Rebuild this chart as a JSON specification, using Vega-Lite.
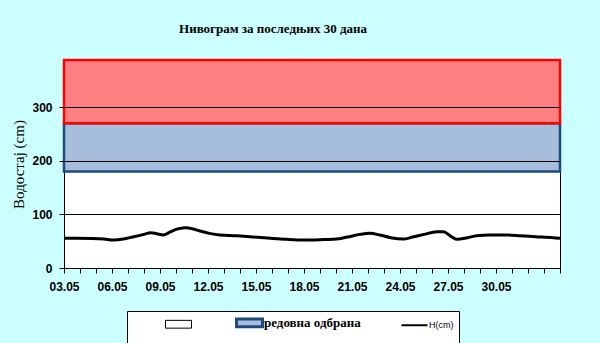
{
  "$schema": "https://vega.github.io/schema/vega-lite/v6.json",
  "width": 496,
  "height": 208,
  "autosize": {"type": "none"},
  "padding": {"left": 64, "top": 60, "right": 40, "bottom": 75},
  "background": "#CCFFFF",
  "title": {
    "text": "Нивограм за последњих 30 дана",
    "anchor": "middle",
    "frame": "group",
    "offset": 23,
    "dx": -39,
    "font": "Liberation Serif",
    "fontSize": 13,
    "fontWeight": "bold",
    "color": "black"
  },
  "config": {
    "view": {"fill": "white", "stroke": "black", "strokeWidth": 1},
    "axis": {
      "labelFont": "Liberation Sans",
      "labelFontSize": 12,
      "labelFontWeight": "bold",
      "labelColor": "black",
      "tickColor": "black",
      "tickSize": 5,
      "domain": false
    },
    "legend": {
      "orient": "none", "legendX": 63, "legendY": 251,
      "direction": "horizontal",
      "titleOrient": "left", "titlePadding": 40, "titleFontSize": 30, "titleFont": "Liberation Sans",
      "padding": 5, "fillColor": "white", "strokeColor": "black",
      "columnPadding": 36, "labelOffset": 8, "symbolSize": 676, "labelLimit": 300,
      "symbolStrokeWidth": 2,
      "labelFont": "Liberation Serif", "labelFontSize": 13, "labelFontWeight": "bold", "labelColor": "black"
    }
  },
  "datasets": {
    "zones": [
      {"series": "редовна одбрана", "lo": 180, "hi": 270}
    ],
    "red": [
      {"zone": "ванредна одбрана", "lo": 270, "hi": 388}
    ],
    "level": [
      {"t": "2024-05-03T00:00:00Z", "h": 55.3, "series": "H(cm)"},
      {"t": "2024-05-03T19:00:00Z", "h": 55.3, "series": "H(cm)"},
      {"t": "2024-05-04T19:00:00Z", "h": 55.0, "series": "H(cm)"},
      {"t": "2024-05-05T12:00:00Z", "h": 54.0, "series": "H(cm)"},
      {"t": "2024-05-06T02:00:00Z", "h": 52.2, "series": "H(cm)"},
      {"t": "2024-05-06T17:00:00Z", "h": 54.0, "series": "H(cm)"},
      {"t": "2024-05-07T07:00:00Z", "h": 57.8, "series": "H(cm)"},
      {"t": "2024-05-08T00:00:00Z", "h": 62.7, "series": "H(cm)"},
      {"t": "2024-05-08T10:00:00Z", "h": 65.8, "series": "H(cm)"},
      {"t": "2024-05-08T19:00:00Z", "h": 64.0, "series": "H(cm)"},
      {"t": "2024-05-09T05:00:00Z", "h": 61.5, "series": "H(cm)"},
      {"t": "2024-05-09T14:00:00Z", "h": 66.5, "series": "H(cm)"},
      {"t": "2024-05-10T00:00:00Z", "h": 72.0, "series": "H(cm)"},
      {"t": "2024-05-10T14:00:00Z", "h": 75.2, "series": "H(cm)"},
      {"t": "2024-05-11T02:00:00Z", "h": 72.7, "series": "H(cm)"},
      {"t": "2024-05-11T12:00:00Z", "h": 68.9, "series": "H(cm)"},
      {"t": "2024-05-12T02:00:00Z", "h": 64.6, "series": "H(cm)"},
      {"t": "2024-05-12T18:00:00Z", "h": 61.5, "series": "H(cm)"},
      {"t": "2024-05-13T19:00:00Z", "h": 60.2, "series": "H(cm)"},
      {"t": "2024-05-14T19:00:00Z", "h": 57.8, "series": "H(cm)"},
      {"t": "2024-05-15T22:00:00Z", "h": 55.3, "series": "H(cm)"},
      {"t": "2024-05-16T22:00:00Z", "h": 53.4, "series": "H(cm)"},
      {"t": "2024-05-18T00:00:00Z", "h": 52.2, "series": "H(cm)"},
      {"t": "2024-05-19T00:00:00Z", "h": 52.8, "series": "H(cm)"},
      {"t": "2024-05-20T00:00:00Z", "h": 54.0, "series": "H(cm)"},
      {"t": "2024-05-20T17:00:00Z", "h": 57.8, "series": "H(cm)"},
      {"t": "2024-05-21T12:00:00Z", "h": 62.7, "series": "H(cm)"},
      {"t": "2024-05-22T02:00:00Z", "h": 64.6, "series": "H(cm)"},
      {"t": "2024-05-22T18:00:00Z", "h": 61.5, "series": "H(cm)"},
      {"t": "2024-05-23T10:00:00Z", "h": 56.5, "series": "H(cm)"},
      {"t": "2024-05-24T05:00:00Z", "h": 54.0, "series": "H(cm)"},
      {"t": "2024-05-24T19:00:00Z", "h": 57.8, "series": "H(cm)"},
      {"t": "2024-05-25T12:00:00Z", "h": 62.7, "series": "H(cm)"},
      {"t": "2024-05-26T07:00:00Z", "h": 67.7, "series": "H(cm)"},
      {"t": "2024-05-26T17:00:00Z", "h": 67.7, "series": "H(cm)"},
      {"t": "2024-05-27T05:00:00Z", "h": 58.4, "series": "H(cm)"},
      {"t": "2024-05-27T14:00:00Z", "h": 53.4, "series": "H(cm)"},
      {"t": "2024-05-28T05:00:00Z", "h": 56.5, "series": "H(cm)"},
      {"t": "2024-05-28T19:00:00Z", "h": 60.2, "series": "H(cm)"},
      {"t": "2024-05-29T14:00:00Z", "h": 61.5, "series": "H(cm)"},
      {"t": "2024-05-30T17:00:00Z", "h": 61.5, "series": "H(cm)"},
      {"t": "2024-05-31T12:00:00Z", "h": 60.2, "series": "H(cm)"},
      {"t": "2024-06-01T12:00:00Z", "h": 58.4, "series": "H(cm)"},
      {"t": "2024-06-02T14:00:00Z", "h": 56.5, "series": "H(cm)"},
      {"t": "2024-06-03T00:00:00Z", "h": 55.3, "series": "H(cm)"}
    ]
  },
  "layer": [
    {
      "data": {"name": "zones"},
      "mark": {"type": "rect", "fill": "#A6BEDC", "strokeWidth": 2.5},
      "encoding": {
        "y": {
          "field": "lo", "type": "quantitative", "title": "Водостај (cm)",
          "scale": {"domain": [0, 388], "nice": false, "zero": true},
          "axis": {
            "values": [0, 100, 200, 300],
            "grid": true, "gridColor": "black", "gridOpacity": 1, "gridWidth": 1,
            "labelPadding": 7,
            "titleFont": "Liberation Serif", "titleFontSize": 15, "titleFontWeight": "normal",
            "titleColor": "black", "titlePadding": 5, "zindex": 1
          }
        },
        "y2": {"field": "hi"},
        "stroke": {
          "field": "series", "type": "nominal", "title": " ",
          "scale": {"domain": [" ", "редовна одбрана", "H(cm)"], "range": ["#000000", "#1F497D", "#000000"]},
          "legend": {
            "title": " ",
            "encode": {
              "symbols": {
                "update": {
                  "shape": {"signal": "datum.value == 'H(cm)' ? 'stroke' : 'M-1,-0.3H1V0.3H-1Z'"},
                  "fill": {"signal": "datum.value == 'H(cm)' ? 'transparent' : (datum.value == ' ' ? '#FFFFFF' : '#A6BEDC')"},
                  "strokeWidth": {"signal": "datum.value == 'редовна одбрана' ? 3 : (datum.value == 'H(cm)' ? 2 : 1)"},
                  "opacity": {"value": 1}
                }
              },
              "labels": {
                "update": {
                  "fontSize": {"signal": "datum.value == 'H(cm)' ? 9 : 13"},
                  "font": {"signal": "datum.value == 'H(cm)' ? 'Liberation Sans' : 'Liberation Serif'"},
                  "fontWeight": {"signal": "datum.value == 'H(cm)' ? 'normal' : 'bold'"}
                }
              }
            }
          }
        }
      }
    },
    {
      "data": {"name": "red"},
      "mark": {"type": "rect", "fill": "#FF8080", "stroke": "#FF0000", "strokeWidth": 2.5},
      "encoding": {
        "y": {"field": "lo", "type": "quantitative", "title": "Водостај (cm)", "scale": {"domain": [0, 388], "nice": false, "zero": true}},
        "y2": {"field": "hi"}
      }
    },
    {
      "data": {"name": "level"},
      "mark": {"type": "line", "interpolate": "monotone", "strokeWidth": 3},
      "encoding": {
        "x": {
          "field": "t", "type": "temporal", "title": null,
          "scale": {"type": "utc", "domain": [1714694400000, 1717372800000], "nice": false},
          "axis": {
            "tickCount": {"interval": "day", "step": 1},
            "labelExpr": "utcmonth(datum.value) == 4 && (utcdate(datum.value) - 3) % 3 == 0 ? utcFormat(datum.value, '%d.%m') : ''",
            "labelOverlap": false, "labelFlush": false, "grid": false,
            "labelPadding": 8
          }
        },
        "y": {"field": "h", "type": "quantitative", "title": "Водостај (cm)", "scale": {"domain": [0, 388], "nice": false, "zero": true}},
        "stroke": {
          "field": "series", "type": "nominal", "title": " ",
          "legend": {
            "title": " ",
            "encode": {
              "symbols": {
                "update": {
                  "shape": {"signal": "datum.value == 'H(cm)' ? 'stroke' : 'M-1,-0.3H1V0.3H-1Z'"},
                  "fill": {"signal": "datum.value == 'H(cm)' ? 'transparent' : (datum.value == ' ' ? '#FFFFFF' : '#A6BEDC')"},
                  "strokeWidth": {"signal": "datum.value == 'редовна одбрана' ? 3 : (datum.value == 'H(cm)' ? 2 : 1)"},
                  "opacity": {"value": 1}
                }
              },
              "labels": {
                "update": {
                  "fontSize": {"signal": "datum.value == 'H(cm)' ? 9 : 13"},
                  "font": {"signal": "datum.value == 'H(cm)' ? 'Liberation Sans' : 'Liberation Serif'"},
                  "fontWeight": {"signal": "datum.value == 'H(cm)' ? 'normal' : 'bold'"}
                }
              }
            }
          }
        }
      }
    }
  ]
}
